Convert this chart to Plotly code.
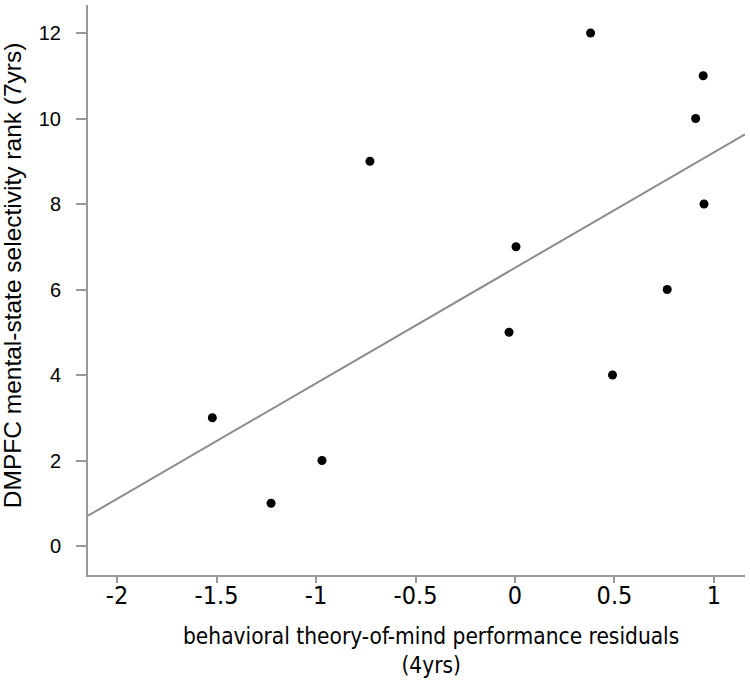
import numpy as np
import plotly.graph_objects as go

tom_residuals = [-1.521, -1.226, -0.970, -0.729, -0.030, 0.005, 0.380, 0.490, 0.765, 0.908, 0.946, 0.950]
dmpfc_rank = [3, 1, 2, 9, 5, 7, 12, 4, 6, 10, 11, 8]
x_ticks = [-2, -1.5, -1, -0.5, 0, 0.5, 1]
x_ticklabels = ["-2", "-1.5", "-1", "-0.5", "0", "0.5", "1"]
y_ticks = [0, 2, 4, 6, 8, 10, 12]
x_title = "behavioral theory-of-mind performance residuals<br>(4yrs)"
y_title = "DMPFC mental-state selectivity rank (7yrs)"

x_range = [-2.146, 1.156]
y_range = [-0.678, 12.655]

slope, intercept = np.polyfit(tom_residuals, dmpfc_rank, 1)
line_x = np.array(x_range)
line_y = slope * line_x + intercept

fig = go.Figure()
fig.add_trace(go.Scatter(x=line_x, y=line_y, mode="lines",
                         line=dict(color="#8c8c8c", width=2), hoverinfo="skip"))
fig.add_trace(go.Scatter(x=tom_residuals, y=dmpfc_rank, mode="markers",
                         marker=dict(color="black", size=9)))

cond = "DejaVu Sans Condensed, Liberation Sans Narrow, sans-serif"
arial = "Liberation Sans, Arial, sans-serif"
fig.update_layout(
    width=750, height=681,
    margin=dict(l=88, r=5, t=5, b=106),
    plot_bgcolor="white", paper_bgcolor="white",
    showlegend=False,
    xaxis=dict(range=x_range, tickvals=x_ticks, ticktext=x_ticklabels,
               showgrid=False, zeroline=False, showline=True,
               linecolor="#999999", linewidth=2,
               ticks="outside", ticklen=6, tickwidth=2, tickcolor="#999999",
               ticklabelstandoff=-9,
               tickfont=dict(family=cond, size=25, color="black")),
    yaxis=dict(range=y_range, tickvals=y_ticks,
               showgrid=False, zeroline=False, showline=True,
               linecolor="#999999", linewidth=2,
               ticks="outside", ticklen=10, tickwidth=2, tickcolor="#999999",
               ticklabelstandoff=11,
               tickfont=dict(family=arial, size=20, color="black")),
    annotations=[
        dict(text=x_title, xref="paper", yref="paper", x=0.522, y=-0.0825,
             xanchor="center", yanchor="top", showarrow=False, borderpad=0,
             font=dict(family=cond, size=22.5, color="black")),
        dict(text=y_title, xref="paper", yref="paper", x=-0.1157, y=0.526,
             xanchor="center", yanchor="middle", textangle=-90, showarrow=False,
             borderpad=0, font=dict(family=arial, size=24.5, color="black")),
    ],
)

fig.write_html("out.html", config={"displayModeBar": False},
               post_script="document.body.style.margin='0';")
